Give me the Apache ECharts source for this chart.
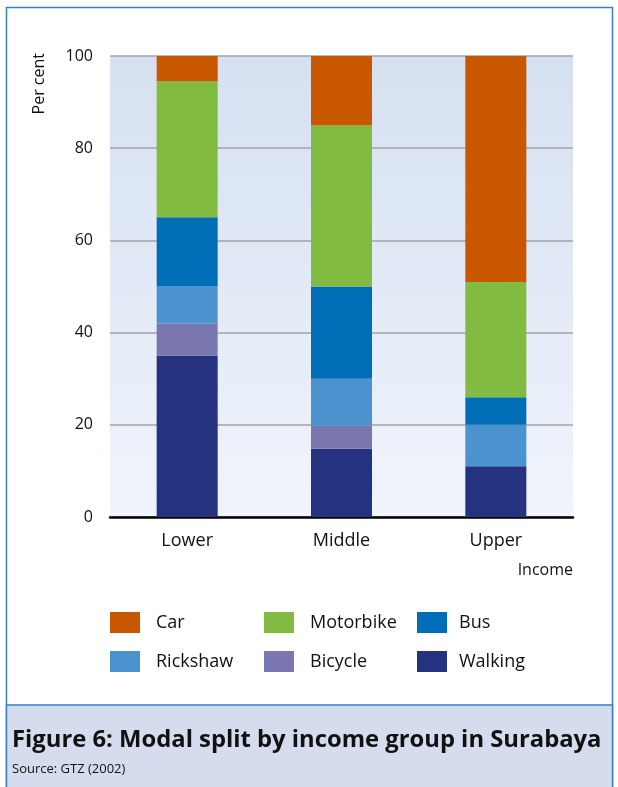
<!DOCTYPE html>
<html>
<head>
<meta charset="utf-8">
<script src="https://cdn.jsdelivr.net/npm/echarts@6/dist/echarts.min.js"></script>
<style>
  html, body { margin: 0; padding: 0; background: #ffffff; }
  #chart { width: 618px; height: 787px; }
</style>
</head>
<body>
<div id="chart"></div>
<script>
// Income groups along the horizontal axis
var categories = ['Lower', 'Middle', 'Upper'];

// Modal share per income group (per cent), stacked bottom to top
var walking   = [35, 14.8, 11];
var bicycle   = [7, 5, 0];
var rickshaw  = [8, 10.2, 9];
var bus       = [15, 20, 6];
var motorbike = [29.5, 35, 25];
var car       = [5.5, 15, 49];

var yTicks = [0, 20, 40, 60, 80, 100];

var colors = {
  Car: '#c85700',
  Motorbike: '#82bb41',
  Bus: '#006eb6',
  Rickshaw: '#4a93cf',
  Bicycle: '#7a76b0',
  Walking: '#24327f'
};

var FONT = '"Open Sans", "Noto Sans", sans-serif';

function barSeries(name, values) {
  return {
    name: name,
    type: 'bar',
    stack: 'share',
    barWidth: 61,
    data: values,
    itemStyle: { color: colors[name] },
    emphasis: { disabled: true }
  };
}

function legendColumn(left, names, gap) {
  return {
    orient: 'vertical',
    left: left,
    top: 607,
    itemWidth: 30,
    itemHeight: 21,
    itemGap: 18,
    icon: 'rect',
    selectedMode: false,
    data: names,
    textStyle: { fontFamily: FONT, fontSize: 18, color: '#111', padding: [0, 0, 0, gap] }
  };
}

var chart = echarts.init(document.getElementById('chart'), null, { renderer: 'canvas' });

chart.setOption({
  animation: false,
  backgroundColor: '#ffffff',
  grid: {
    left: 110, right: 45, top: 56, bottom: 270,
    show: true,
    borderWidth: 0,
    backgroundColor: new echarts.graphic.LinearGradient(0, 0, 0, 1, [
      { offset: 0, color: '#d5e0f1' },
      { offset: 1, color: '#f0f4fc' }
    ])
  },
  legend: [
    legendColumn(105, ['Car', 'Rickshaw'], 11),
    legendColumn(259, ['Motorbike', 'Bicycle'], 11),
    legendColumn(412, ['Bus', 'Walking'], 7)
  ],
  xAxis: {
    type: 'category',
    data: categories,
    axisTick: { show: false },
    axisLine: { lineStyle: { color: '#000', width: 2.5 } },
    axisLabel: { fontFamily: FONT, fontSize: 18, color: '#111', margin: 15 }
  },
  yAxis: {
    type: 'value',
    min: yTicks[0],
    max: yTicks[yTicks.length - 1],
    interval: yTicks[1] - yTicks[0],
    axisLine: { show: false },
    axisTick: { show: false },
    splitLine: { lineStyle: { color: '#a3a3a3', width: 1.5 } },
    axisLabel: { fontFamily: FONT, fontSize: 16, color: '#111', margin: 17 }
  },
  series: [
    barSeries('Walking', walking),
    barSeries('Bicycle', bicycle),
    barSeries('Rickshaw', rickshaw),
    barSeries('Bus', bus),
    barSeries('Motorbike', motorbike),
    barSeries('Car', car)
  ],
  graphic: [
    // outer frame
    {
      type: 'rect', z: -10,
      shape: { x: 6.5, y: 7.5, width: 606, height: 790 },
      style: { fill: 'none', stroke: '#3a7fbf', lineWidth: 1.5 }
    },
    // caption band
    {
      type: 'rect', z: -9,
      shape: { x: 6.5, y: 705, width: 606, height: 90 },
      style: { fill: '#d4dcee', stroke: '#3a7fbf', lineWidth: 1.5 }
    },
    {
      type: 'text', left: 31, top: 53, rotation: Math.PI / 2,
      style: { text: 'Per cent', font: '16px ' + FONT, fill: '#111' }
    },
    {
      type: 'text', right: 45, top: 562,
      style: { text: 'Income', font: '16px ' + FONT, fill: '#111' }
    },
    {
      type: 'text', left: 12, top: 728,
      style: { text: 'Figure 6: Modal split by income group in Surabaya', font: 'bold 23.8px ' + FONT, fill: '#111' }
    },
    {
      type: 'text', left: 12, top: 763,
      style: { text: 'Source: GTZ (2002)', font: '13px ' + FONT, fill: '#111' }
    }
  ]
});
</script>
</body>
</html>
